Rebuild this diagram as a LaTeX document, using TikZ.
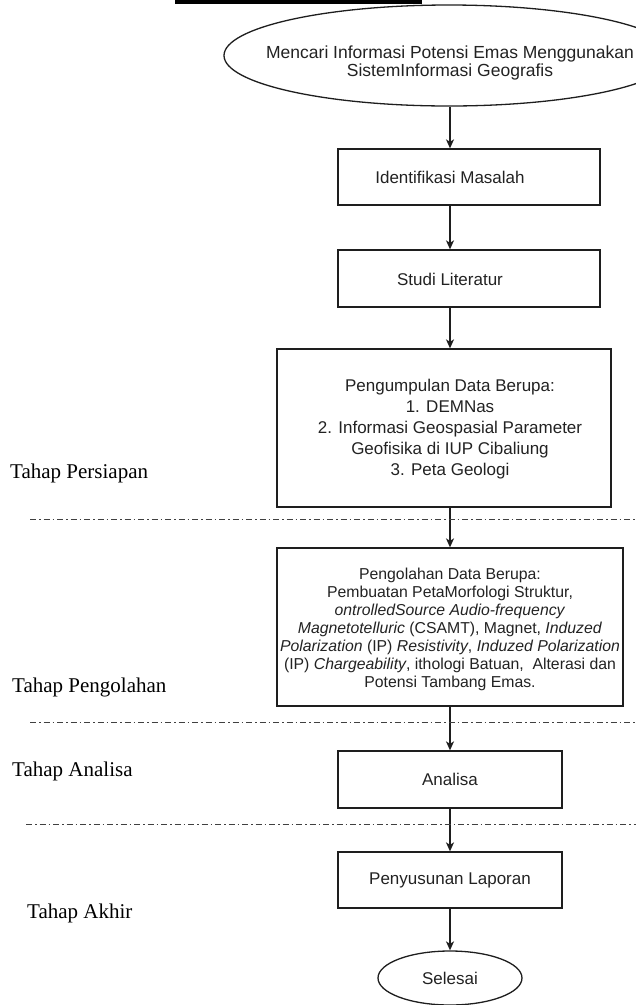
\documentclass[tikz,border=0pt]{standalone}
\usepackage{fontspec}
\setmainfont{Liberation Sans}
\newfontfamily\tnr{Liberation Serif}
\usetikzlibrary{arrows.meta,shapes.geometric}
\definecolor{linec}{HTML}{1E1E1E}
\definecolor{textc}{HTML}{222222}
\begin{document}
\begin{tikzpicture}[x=1pt,y=-1pt,
  box/.style={draw=linec, line width=1.3pt, rectangle, inner sep=0pt},
  oval/.style={draw=linec, line width=1.3pt, ellipse, inner sep=0pt},
  txt/.style={font=\fontsize{17}{21}\selectfont, text=textc, align=center, inner sep=0pt},
  arr/.style={draw=linec, line width=1.3pt, -{Stealth[length=9pt,width=8pt,inset=2.5pt]}},
  phase/.style={font=\tnr\fontsize{21}{24}\selectfont, text=black, anchor=west, inner sep=0pt},
  sepline/.style={draw=linec!85, line width=1pt, dash pattern=on 6pt off 3pt on 1.5pt off 3pt},
]
\useasboundingbox (0,0) rectangle (636,1005);
\clip (0,0) rectangle (636,1005);

% top black bar
\fill[black] (175,0) rectangle (422,3.5);

% start ellipse
\node[oval, minimum width=450, minimum height=101] (start) at (449,55.5) {};
\node[txt, font=\fontsize{17.5}{18}\selectfont] (startt) at (450,63)
  {Mencari Informasi Potensi Emas Menggunakan\\SistemInformasi Geografis};

% boxes
\node[box, minimum width=262, minimum height=56] (idm) at (469,177) {};
\node[txt] (idmt) at (450,177) {Identifikasi Masalah};

\node[box, minimum width=262, minimum height=57] (studi) at (469,278.5) {};
\node[txt] (studit) at (450,279) {Studi Literatur};

\node[box, minimum width=334, minimum height=158] (kumpul) at (444,428) {};
\node[txt] (kumpult) at (450,429.5)
  {Pengumpulan Data Berupa:\\1. DEMNas\\2. Informasi Geospasial Parameter\\Geofisika di IUP Cibaliung\\3. Peta Geologi};

\node[box, minimum width=346, minimum height=158] (olah) at (450,627) {};
\node[txt, font=\fontsize{15.8}{18}\selectfont] (olaht) at (450,629)
  {Pengolahan Data Berupa:\\
   Pembuatan PetaMorfologi Struktur,\\
   \textit{ontrolledSource Audio-frequency}\\
   \textit{Magnetotelluric} (CSAMT), Magnet, \textit{Induzed}\\
   \textit{Polarization} (IP) \textit{Resistivity}, \textit{Induzed Polarization}\\
   (IP) \textit{Chargeability}, ithologi Batuan,\ \ Alterasi dan\\
   Potensi Tambang Emas.};

\node[box, txt, draw=linec, minimum width=224, minimum height=57] (analisa) at (450,779.5) {Analisa};
\node[box, txt, draw=linec, minimum width=224, minimum height=56] (lapor) at (450,880) {Penyusunan Laporan};
\node[oval, txt, draw=linec, minimum width=144, minimum height=54] (selesai) at (450,978) {Selesai};

% connectors
\draw[arr] (startt |- start.south) -- (startt |- idm.north);
\draw[arr] (idmt |- idm.south) -- (idmt |- studi.north);
\draw[arr] (studit |- studi.south) -- (studit |- kumpul.north);
\draw[arr] (kumpult |- kumpul.south) -- (olah.north);
\draw[arr] (olah.south) -- (analisa.north);
\draw[arr] (analisa.south) -- (lapor.north);
\draw[arr] (lapor.south) -- (selesai.north);

% phase separators
\draw[sepline] (30,519) -- (636,519);
\draw[sepline] (30,722) -- (636,722);
\draw[sepline] (26,824) -- (636,824);

% phase labels
\node[phase] (p1) at (10,473) {Tahap Persiapan};
\node[phase] (p2) at (12,687) {Tahap Pengolahan};
\node[phase] (p3) at (12,771) {Tahap Analisa};
\node[phase] (p4) at (27,913) {Tahap Akhir};
\end{tikzpicture}
\end{document}
